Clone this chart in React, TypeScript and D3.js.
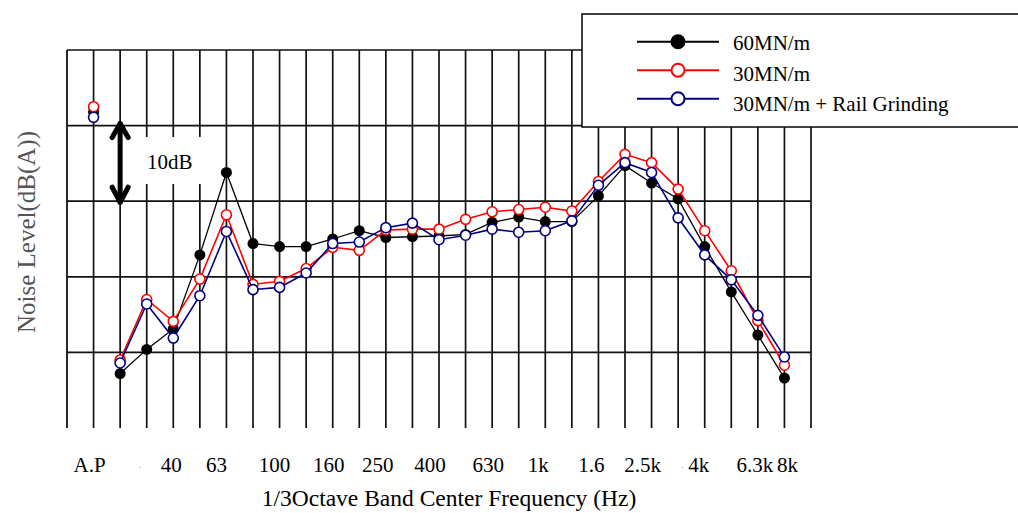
import React from "react";
import * as d3 from "d3";

// 1/3 octave bands 25 Hz .. 8 kHz (slots 2..27), A.P = overall level at slot 1
const bands = ["25", "31.5", "40", "50", "63", "80", "100", "125", "160", "200", "250", "315", "400", "500", "630", "800", "1k", "1.25k", "1.6k", "2k", "2.5k", "3.15k", "4k", "5k", "6.3k", "8k"];

const seriesNames = ["60MN/m", "30MN/m", "30MN/m + Rail Grinding"];
const seriesColors = ["#000000", "#ff0000", "#000080"];

const apLevels = [81.8, 82.5, 81.1];

const level60 = [47.2, 50.4, 53.1, 62.9, 73.8, 64.4, 64.0, 64.0, 65.0, 66.1, 65.2, 65.3, 65.4, 65.6, 67.2, 67.9, 67.3, 67.3, 70.7, 74.7, 72.4, 70.3, 64.0, 58.0, 52.3, 46.6];
const level30 = [49.0, 57.0, 54.1, 59.7, 68.2, 59.0, 59.4, 61.1, 63.9, 63.5, 66.2, 66.3, 66.3, 67.6, 68.6, 68.9, 69.2, 68.7, 72.6, 76.2, 75.1, 71.6, 66.1, 60.8, 54.2, 48.3];
const level30rg = [48.6, 56.4, 51.9, 57.5, 66.0, 58.3, 58.6, 60.5, 64.4, 64.6, 66.5, 67.1, 64.9, 65.5, 66.3, 65.9, 66.1, 67.4, 72.1, 75.1, 73.8, 67.8, 62.9, 59.6, 54.9, 49.4];

const tickLabels = ["A.P", ".", "40", "63", "100", "160", "250", "400", "630", "1k", "1.6", "2.5k", ".", "4k", "6.3k", "8k"];
const tickSlots = [1, 3, 4, 6, 8, 10, 12, 14, 16, 18, 20, 22, 23, 24, 26, 27];
const tickNudge = [-4, -7, -2, -10, -5, -4, -8, -9, -4, -7, -7, -9, 4, -6, -3, 3];

const yGrid = [40, 50, 60, 70, 80, 90];

const FONT = "'Liberation Serif', 'Times New Roman', serif";

export default function App() {
  const width = 1018;
  const height = 513;

  const x = d3.scaleLinear().domain([0, 28]).range([67, 811]);
  const y = d3.scaleLinear().domain([40, 90]).range([428, 50]);

  const allSeries = [level60, level30, level30rg];
  const line = d3
    .line<number>()
    .x((d, i) => x(i + 2))
    .y(d => y(d));

  const slots = d3.range(1, 29);

  return (
    <svg width={width} height={height} style={{ position: "absolute", left: 0, top: 0, background: "#fff" }} fontFamily={FONT}>
      {/* grid */}
      <line x1={x(0)} x2={x(0)} y1={y(90)} y2={y(40)} stroke="#111" strokeWidth={1.8} />
      {slots.map(k => (
        <line key={"v" + k} x1={x(k)} x2={x(k)} y1={y(90)} y2={y(40)} stroke="#111" strokeWidth={1.7} />
      ))}
      {yGrid.filter(v => v > 40).map(v => (
        <line key={"h" + v} x1={x(0)} x2={x(28)} y1={y(v)} y2={y(v)} stroke="#111" strokeWidth={1.7} />
      ))}

      {/* 10dB marker */}
      <rect x={140} y={137} width={66} height={47} fill="#fff" />
      <text x={147} y={169} fontSize={21} fill="#000">10dB</text>
      <g stroke="#000" strokeWidth={5} fill="none" strokeLinecap="round" strokeLinejoin="round">
        <line x1={x(2)} x2={x(2)} y1={y(80) - 2} y2={y(70) + 1} />
        <polyline points={`${x(2) - 8},${y(80) + 12} ${x(2)},${y(80) - 2} ${x(2) + 8},${y(80) + 12}`} />
        <polyline points={`${x(2) - 8},${y(70) - 14} ${x(2)},${y(70) + 1} ${x(2) + 8},${y(70) - 14}`} />
      </g>

      {/* series */}
      {allSeries.map((s, si) => (
        <g key={"s" + si}>
          <path d={line(s) || ""} fill="none" stroke={seriesColors[si]} strokeWidth={si === 0 ? 1.3 : 1.6} />
          {[apLevels[si], ...s].map((v, i) => (
            <circle
              key={i}
              cx={x(i + 1)}
              cy={y(v)}
              r={si === 0 ? 5.5 : 5}
              fill={si === 0 ? "#000" : "#fff"}
              stroke={seriesColors[si]}
              strokeWidth={si === 0 ? 0 : 1.6}
            />
          ))}
        </g>
      ))}

      {/* x tick labels */}
      {tickLabels.map((t, i) => (
        <text
          key={"t" + i}
          x={x(tickSlots[i]) + tickNudge[i]}
          y={t === "." ? 468 : 472}
          textAnchor="middle"
          fontSize={t === "." ? 10 : 21}
          fill={t === "." ? "#999" : "#000"}
        >
          {t}
        </text>
      ))}
      <text x={449} y={506} textAnchor="middle" fontSize={23.5} fill="#000">
        1/3Octave Band Center Frequency (Hz)
      </text>

      {/* y label */}
      <text transform="translate(35,232) rotate(-90)" textAnchor="middle" fontSize={25} fill="#555">
        Noise Level(dB(A))
      </text>

      {/* legend */}
      <rect x={582} y={14} width={450} height={113} fill="#fff" stroke="#111" strokeWidth={1.6} />
      {seriesNames.map((name, i) => (
        <g key={"l" + i}>
          <line x1={637} x2={719} y1={41.7 + i * 28.5} y2={41.7 + i * 28.5} stroke={seriesColors[i]} strokeWidth={2} />
          <circle
            cx={678}
            cy={41.7 + i * 28.5}
            r={i === 0 ? 7.5 : 6.5}
            fill={i === 0 ? "#000" : "#fff"}
            stroke={seriesColors[i]}
            strokeWidth={i === 0 ? 0 : 2}
          />
          <text x={733} y={50 + i * 30.5} fontSize={21} fill="#000">{name}</text>
        </g>
      ))}
    </svg>
  );
}
